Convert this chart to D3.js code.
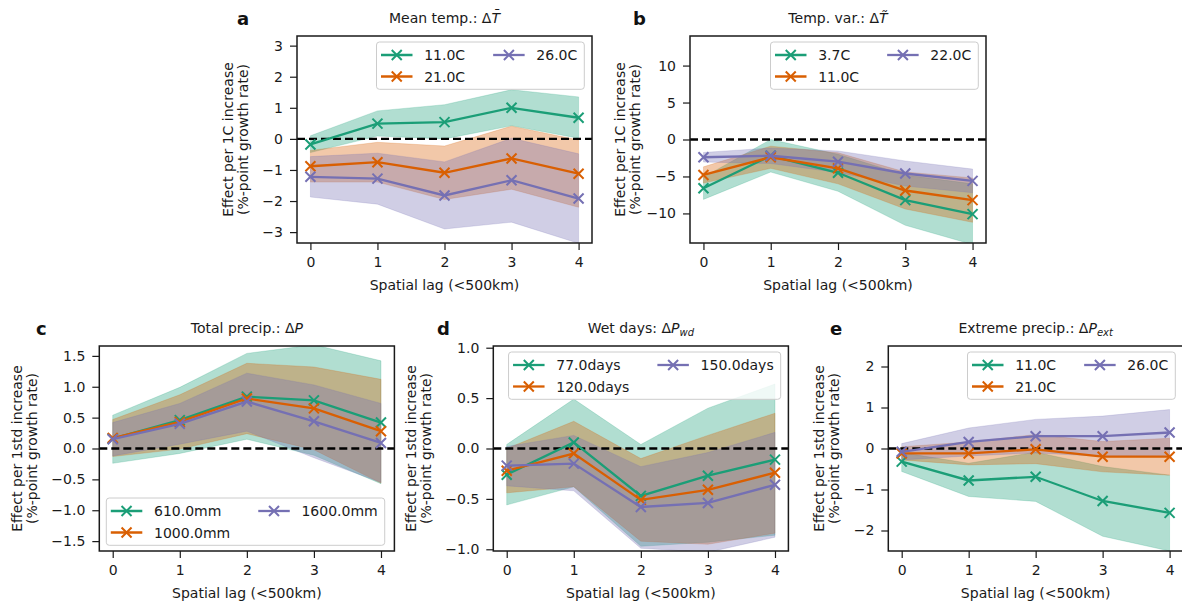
<!DOCTYPE html>
<html><head><meta charset="utf-8">
<script src="https://cdn.jsdelivr.net/npm/d3@7"></script>
<style>body{margin:0;background:#fff} svg{display:block} text{font-family:"DejaVu Sans",sans-serif}</style>
</head><body><svg id="chart" width="1182" height="608"></svg>
<script>
const lags=[0,1,2,3,4];
const xTicks=[0,1,2,3,4];
const colors=["#1b9e77","#d95f02","#7570b3"];

// a: Mean temp
const aNames=["11.0C","21.0C","26.0C"];
const aMean=[[-0.18,0.49,0.54,1.0,0.68],[-0.88,-0.75,-1.09,-0.63,-1.12],[-1.22,-1.28,-1.82,-1.33,-1.92]];
const aLow =[[-0.44,0.09,0.0,0.42,0.02],[-1.39,-1.39,-1.95,-1.62,-2.2],[-1.87,-2.1,-2.9,-2.68,-3.36]];
const aHigh=[[0.1,0.9,1.1,1.58,1.35],[-0.37,-0.11,-0.23,0.41,-0.04],[-0.57,-0.46,-0.74,0.02,-0.48]];
const aYTicks=[-3,-2,-1,0,1,2,3];

// b: Temp var
const bNames=["3.7C","11.0C","22.0C"];
const bMean=[[-6.6,-2.2,-4.5,-8.2,-10.1],[-4.8,-2.4,-3.9,-6.9,-8.2],[-2.4,-2.2,-3.0,-4.6,-5.6]];
const bLow =[[-8.1,-4.4,-7.0,-11.6,-14.2],[-5.9,-3.9,-6.0,-9.4,-11.2],[-3.05,-3.25,-4.45,-6.3,-7.2]];
const bHigh=[[-5.1,0.0,-2.0,-4.8,-6.0],[-3.7,-0.9,-1.8,-4.4,-5.2],[-1.75,-1.15,-1.55,-2.9,-4.0]];
const bYTicks=[-10,-5,0,5,10];

// c: Total precip
const cNames=["610.0mm","1000.0mm","1600.0mm"];
const cMean=[[0.16,0.46,0.84,0.78,0.42],[0.17,0.43,0.81,0.65,0.28],[0.15,0.40,0.76,0.44,0.09]];
const cLow =[[-0.24,-0.08,0.15,-0.11,-0.57],[-0.13,-0.01,0.24,-0.02,-0.56],[-0.12,0.07,0.28,-0.15,-0.55]];
const cHigh=[[0.54,0.99,1.54,1.68,1.42],[0.47,0.87,1.38,1.32,1.12],[0.42,0.73,1.22,1.03,0.73]];
const cYTicks=[-1.5,-1.0,-0.5,0.0,0.5,1.0,1.5];

// d: Wet days
const dNames=["77.0days","120.0days","150.0days"];
const dMean=[[-0.26,0.06,-0.47,-0.27,-0.11],[-0.22,-0.05,-0.51,-0.41,-0.24],[-0.17,-0.15,-0.58,-0.54,-0.36]];
const dLow =[[-0.56,-0.38,-0.97,-0.93,-0.86],[-0.44,-0.38,-0.92,-0.95,-0.84],[-0.37,-0.42,-0.99,-1.03,-0.88]];
const dHigh=[[0.04,0.49,0.04,0.40,0.64],[0.0,0.27,-0.1,0.13,0.35],[0.02,0.13,-0.18,-0.04,0.16]];
const dYTicks=[-1.0,-0.5,0.0,0.5,1.0];

// e: Extreme precip
const eNames=["11.0C","21.0C","26.0C"];
const eMean=[[-0.32,-0.78,-0.69,-1.28,-1.57],[-0.12,-0.12,-0.02,-0.2,-0.2],[-0.08,0.16,0.3,0.3,0.39]];
const eLow =[[-0.56,-1.17,-1.29,-2.14,-2.5],[-0.28,-0.4,-0.37,-0.57,-0.65],[-0.28,-0.18,-0.11,-0.19,-0.17]];
const eHigh=[[-0.1,-0.36,-0.09,-0.44,-0.65],[0.04,0.16,0.34,0.17,0.25],[0.12,0.5,0.71,0.79,0.95]];
const eYTicks=[-2,-1,0,1,2];

const svg=d3.select("#chart");
const TXT="#1a1a1a";

const panels=[
 {id:"a",letterX:237,title:[["Mean temp.: Δ",""],["T\u0304","italic"]],names:aNames,mean:aMean,low:aLow,high:aHigh,ticks:aYTicks,dom:[-3.35,3.31],fmt:d3.format("d"),box:[297,592,36,243],yl:"Effect per 1C increase",ylOff:[-69.5,-54.5],leg:"ur"},
 {id:"b",letterX:633,title:[["Temp. var.: Δ",""],["T\u0303","italic"]],names:bNames,mean:bMean,low:bLow,high:bHigh,ticks:bYTicks,dom:[-14,14],fmt:d3.format("d"),box:[690,986,36,243],yl:"Effect per 1C increase",ylOff:[-70,-55],leg:"ur"},
 {id:"c",letterX:36,title:[["Total precip.: Δ",""],["P","italic"]],names:cNames,mean:cMean,low:cLow,high:cHigh,ticks:cYTicks,dom:[-1.66,1.66],fmt:d3.format(".1f"),box:[99.3,394.4,346,551],yl:"Effect per 1std increase",ylOff:[-82.5,-67.5],leg:"ll"},
 {id:"d",letterX:437,title:[["Wet days: Δ",""],["P","italic"],["wd","sub"]],names:dNames,mean:dMean,low:dLow,high:dHigh,ticks:dYTicks,dom:[-1.017,1.017],fmt:d3.format(".1f"),box:[493.3,788.4,346,551],yl:"Effect per 1std increase",ylOff:[-82.5,-67.5],leg:"ur"},
 {id:"e",letterX:830,title:[["Extreme precip.: Δ",""],["P","italic"],["ext","sub"]],names:eNames,mean:eMean,low:eLow,high:eHigh,ticks:eYTicks,dom:[-2.5,2.5],fmt:d3.format("d"),box:[888.3,1183,346,551],yl:"Effect per 1std increase",ylOff:[-69.5,-54.5],leg:"ur"}
];

function marker(g,cx,cy,col){
  const s=5;
  g.append("path").attr("d",`M${cx-s},${cy-s}L${cx+s},${cy+s}M${cx-s},${cy+s}L${cx+s},${cy-s}`)
   .attr("stroke",col).attr("stroke-width",2).attr("fill","none");
}

panels.forEach(p=>{
  const [x0,x1,y0,y1]=p.box;
  const x=d3.scaleLinear().domain([-0.2,4.2]).range([x0,x1]);
  const y=d3.scaleLinear().domain(p.dom).range([y1,y0]);
  const g=svg.append("g");
  const clipId="clip"+p.id;
  svg.append("clipPath").attr("id",clipId).append("rect").attr("x",x0).attr("y",y0).attr("width",x1-x0).attr("height",y1-y0);
  const plot=g.append("g").attr("clip-path",`url(#${clipId})`);
  p.mean.forEach((m,i)=>{
    const area=d3.area().x((d,j)=>x(lags[j])).y0((d,j)=>y(p.low[i][j])).y1((d,j)=>y(p.high[i][j]));
    plot.append("path").datum(m).attr("d",area).attr("fill",colors[i]).attr("fill-opacity",0.34)
      .attr("stroke",colors[i]).attr("stroke-opacity",0.25).attr("stroke-width",0.8);
  });
  plot.append("line").attr("x1",x0).attr("x2",x1).attr("y1",y(0)).attr("y2",y(0))
    .attr("stroke","#000").attr("stroke-width",2.4).attr("stroke-dasharray","8,4");
  p.mean.forEach((m,i)=>{
    const line=d3.line().x((d,j)=>x(lags[j])).y(d=>y(d));
    plot.append("path").datum(m).attr("d",line).attr("fill","none").attr("stroke",colors[i]).attr("stroke-width",2.3);
    m.forEach((d,j)=>marker(plot,x(lags[j]),y(d),colors[i]));
  });
  const xa=g.append("g").attr("transform",`translate(0,${y1})`)
    .call(d3.axisBottom(x).tickValues(xTicks).tickSize(7).tickPadding(7).tickFormat(d3.format("d")));
  const ya=g.append("g").attr("transform",`translate(${x0},0)`)
    .call(d3.axisLeft(y).tickValues(p.ticks).tickSize(7).tickPadding(7).tickFormat(p.fmt));
  [xa,ya].forEach(a=>{
    a.select(".domain").remove();
    a.selectAll(".tick line").attr("stroke",TXT).attr("stroke-width",1.2);
    a.selectAll(".tick text").attr("fill",TXT).style("font-size","14px").style("font-family","DejaVu Sans");
  });
  g.append("rect").attr("x",x0).attr("y",y0).attr("width",x1-x0).attr("height",y1-y0)
    .attr("fill","none").attr("stroke",TXT).attr("stroke-width",1.5);
  const cx=(x0+x1)/2;
  const t=g.append("text").attr("x",cx).attr("y",y0-13).attr("text-anchor","middle").attr("fill",TXT).style("font-size","14px");
  p.title.forEach(([s,st])=>{
    const ts=t.append("tspan").text(s);
    if(st==="italic") ts.style("font-style","italic");
    if(st==="sub") ts.style("font-style","italic").style("font-size","10px").attr("dy",3);
  });
  g.append("text").attr("x",p.letterX).attr("y",y0-11).attr("fill","#111").style("font-size","18px").style("font-weight","bold").text(p.id);
  g.append("text").attr("x",cx).attr("y",y1+47).attr("text-anchor","middle").attr("fill",TXT).style("font-size","14px").text("Spatial lag (<500km)");
  const cy=(y0+y1)/2;
  [[p.yl,p.ylOff[0]],["(%-point growth rate)",p.ylOff[1]]].forEach(([s,o])=>{
    g.append("text").attr("transform",`translate(${x0+o},${cy}) rotate(-90)`).attr("text-anchor","middle").attr("dy","0.36em")
      .attr("fill",TXT).style("font-size","14px").text(s);
  });
  const fs=14,handleLen=31.5,padL=4.5,textPad=11.7,colSp=28,rowH=21.5,padR=7,H=47.3;
  const tmp=g.append("text").style("font-size",fs+"px");
  const widths=p.names.map(n=>{tmp.text(n);return tmp.node().getComputedTextLength();});
  tmp.remove();
  const cols=[[0,1],[2]];
  const colW=cols.map(c=>d3.max(c,i=>widths[i]));
  const W=padL+handleLen+textPad+colW[0]+colSp+handleLen+textPad+colW[1]+padR;
  let lx,ly;
  if(p.leg==="ur"){lx=x1-7.7-W;ly=y0+6;} else {lx=x0+7;ly=y1-5.7-H;}
  const lg=g.append("g");
  lg.append("rect").attr("x",lx).attr("y",ly).attr("width",W).attr("height",H).attr("rx",3)
    .attr("fill","#fff").attr("fill-opacity",0.8).attr("stroke","#cccccc").attr("stroke-width",1);
  cols.forEach((c,ci)=>{
    const colX=lx+padL+ci*(handleLen+textPad+colW[0]+colSp);
    c.forEach((i,ri)=>{
      const ry=ly+13+ri*rowH;
      lg.append("line").attr("x1",colX).attr("x2",colX+handleLen).attr("y1",ry).attr("y2",ry)
        .attr("stroke",colors[i]).attr("stroke-width",2.3);
      marker(lg,colX+handleLen/2,ry,colors[i]);
      lg.append("text").attr("x",colX+handleLen+textPad).attr("y",ry).attr("dy","0.36em")
        .attr("fill",TXT).style("font-size",fs+"px").text(p.names[i]);
    });
  });
});
</script></body></html>
